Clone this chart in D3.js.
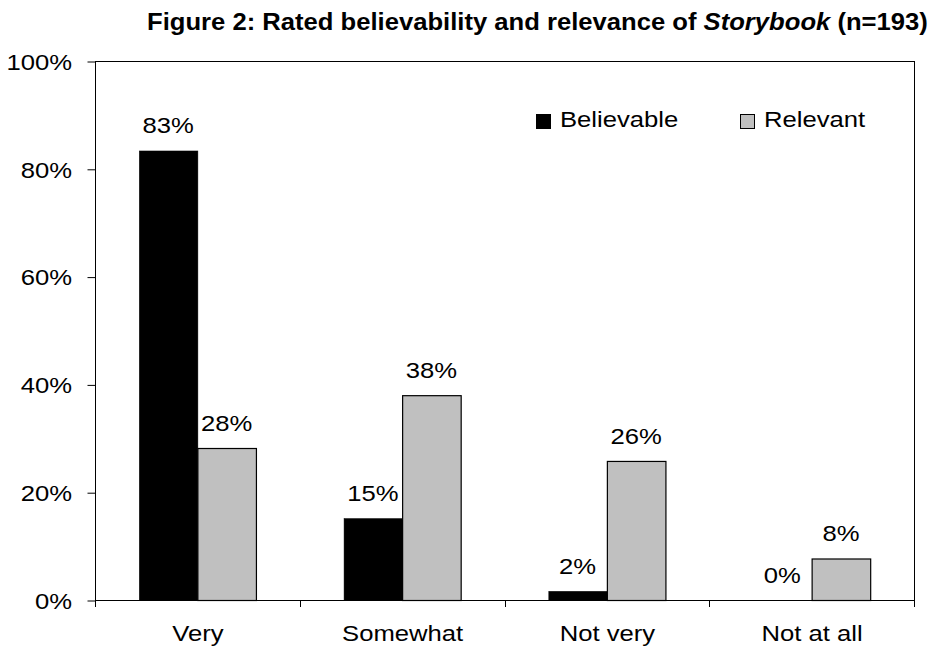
<!DOCTYPE html>
<html><head><meta charset="utf-8">
<script src="https://cdn.jsdelivr.net/npm/d3@7"></script>
<style>body{margin:0;background:#fff}svg{display:block;font-family:Arial,"Liberation Sans",sans-serif}</style>
</head><body>
<svg id="c" width="935" height="646"></svg>
<script>
const categories = ["Very", "Somewhat", "Not very", "Not at all"];
const seriesNames = ["Believable", "Relevant"];
const believable = [83.4, 15.2, 1.7, 0];
const relevant = [28.2, 38, 25.8, 7.7];
const believableLabels = ["83%", "15%", "2%", "0%"];
const relevantLabels = ["28%", "38%", "26%", "8%"];
const yTicks = [0, 20, 40, 60, 80, 100];
const colors = ["#000000", "#c0c0c0"];

const FS = 22.5, SX = 1.14;
const svg = d3.select("#c");
const L = 95, R = 914, T = 61, B = 600;
const x0 = d3.scaleBand().domain(categories).range([L, R]).padding(0);
const bw = x0.bandwidth() * 0.572;
const x1 = d3.scaleBand().domain(seriesNames).range([-bw / 2, bw / 2]).padding(0);
const y = d3.scaleLinear().domain([0, 100]).range([B, T]);

// frame
svg.append("rect").attr("x", L + 0.5).attr("y", T + 0.5).attr("width", R - L).attr("height", B - T)
  .attr("fill", "none").attr("stroke", "#000").attr("stroke-width", 1);

// y axis
const yAxis = svg.append("g").attr("transform", `translate(${L + 0.5},0.5)`)
  .call(d3.axisLeft(y).tickValues(yTicks).tickFormat(d => d + "%").tickSize(8).tickPadding(15));
yAxis.select(".domain").remove();
yAxis.selectAll("text").attr("font-size", FS).attr("font-family", "Arial, 'Liberation Sans', sans-serif").attr("fill", "#000")
  .attr("x", -23.5 / SX).attr("dy", "0.35em").attr("transform", `scale(${SX},1)`);
yAxis.selectAll("line").attr("stroke", "#000");

// x axis
const xAxis = svg.append("g").attr("transform", `translate(0.5,${B + 0.5})`)
  .call(d3.axisBottom(x0).tickSize(0).tickPadding(25));
xAxis.select(".domain").remove();
xAxis.selectAll("text").attr("font-size", FS).attr("font-family", "Arial, 'Liberation Sans', sans-serif").attr("fill", "#000")
  .attr("transform", `scale(${SX},1)`);
const bounds = categories.map(c => x0(c)).concat([R]);
svg.append("g").selectAll("line").data(bounds).join("line")
  .attr("x1", d => Math.round(d) + 0.5).attr("x2", d => Math.round(d) + 0.5)
  .attr("y1", B).attr("y2", B + 7).attr("stroke", "#000");

// bars
const series = [believable, relevant];
const labels = [believableLabels, relevantLabels];
series.forEach((vals, si) => {
  const g = svg.append("g");
  g.selectAll("rect").data(vals.map((v, i) => ({ v, c: categories[i] }))).join("rect")
    .filter(d => d.v > 0)
    .attr("x", d => x0(d.c) + x0.bandwidth() / 2 + x1(seriesNames[si]) + 0.5)
    .attr("y", d => y(d.v) + 0.5)
    .attr("width", x1.bandwidth())
    .attr("height", d => y(0) - y(d.v))
    .attr("fill", colors[si]).attr("stroke", "#000").attr("stroke-width", si === 0 ? 0.5 : 1.2);
  g.selectAll("text").data(vals.map((v, i) => ({ v, c: categories[i], t: labels[si][i] }))).join("text")
    .attr("transform", d => `translate(${x0(d.c) + x0.bandwidth() / 2 + x1(seriesNames[si]) + x1.bandwidth() / 2},${y(d.v) - 17}) scale(${SX},1)`)
    .attr("text-anchor", "middle").attr("font-size", FS).attr("fill", "#000")
    .text(d => d.t);
});

// legend
const leg = svg.append("g");
const legX = [536, 740];
seriesNames.forEach((n, i) => {
  leg.append("rect").attr("x", legX[i] + 0.5).attr("y", 114.5).attr("width", 14).attr("height", 14)
    .attr("fill", colors[i]).attr("stroke", "#000").attr("stroke-width", 1);
  leg.append("text").attr("transform", `translate(${legX[i] + 24},127) scale(${SX},1)`)
    .attr("font-size", FS).attr("fill", "#000").text(n);
});

// title
const title = svg.append("text").attr("y", 30).attr("font-size", 23.5).attr("font-weight", "bold").attr("fill", "#000");
title.append("tspan").text("Figure 2: Rated believability and relevance of ");
title.append("tspan").attr("font-style", "italic").text("Storybook");
title.append("tspan").text(" (n=193)");
const tw = title.node().getComputedTextLength();
const target = 928 - 147;
const sx = target / tw;
title.attr("transform", `translate(147,0) scale(${sx},1)`);
</script>
</body></html>
